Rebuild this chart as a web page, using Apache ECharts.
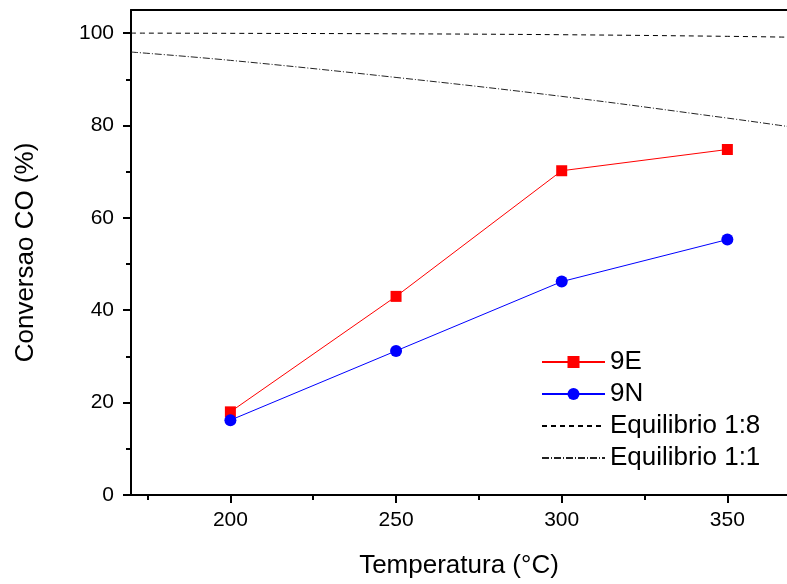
<!DOCTYPE html>
<html>
<head>
<meta charset="utf-8">
<script src="https://cdn.jsdelivr.net/npm/echarts@6/dist/echarts.min.js"></script>
<style>html,body{margin:0;padding:0;background:#fff}#c{width:787px;height:584px}</style>
</head>
<body>
<div id="c"></div>
<script>
var tempX = [200, 250, 300, 350];
var conv9E = [18.0, 43.0, 70.2, 74.8];
var conv9N = [16.2, 31.2, 46.2, 55.3];
var eqX = [170, 200, 250, 300, 350, 370];
var eq18 = [100, 99.95, 99.85, 99.65, 99.3, 99.1];
var eq11 = [95.9, 94.1, 90.4, 86.3, 81.6, 79.6];
var xMajor = [200, 250, 300, 350];
var xMinor = [175, 225, 275, 325];
var yMajor = [0, 20, 40, 60, 80, 100];
var yMinor = [10, 30, 50, 70, 90];

function pairs(xs, ys) { return xs.map(function (x, i) { return [x, ys[i]]; }); }

var FONT = 'Liberation Sans, Arial, sans-serif';
var axisLineStyle = { color: '#000', width: 2 };
var hiddenSym = { color: 'rgba(0,0,0,0)', borderWidth: 0, opacity: 0 };
var chart = echarts.init(document.getElementById('c'));
chart.setOption({
  animation: false,
  backgroundColor: '#fff',
  textStyle: { fontFamily: FONT, color: '#000' },
  grid: { left: 131, right: 0, top: 10, bottom: 88, containLabel: false },
  xAxis: [
    {
      type: 'value', min: 170, max: 368, position: 'bottom',
      name: 'Temperatura (°C)', nameLocation: 'middle', nameGap: 58,
      nameTextStyle: { fontSize: 26, color: '#000', fontFamily: FONT },
      axisLine: { show: true, lineStyle: axisLineStyle },
      axisTick: { show: true, inside: false, length: 8, customValues: xMajor, lineStyle: axisLineStyle },
      axisLabel: { show: true, customValues: xMajor, fontSize: 21, color: '#000', margin: 15, fontFamily: FONT },
      splitLine: { show: false }
    },
    {
      type: 'value', min: 170, max: 368, position: 'bottom',
      axisLine: { show: false },
      axisTick: { show: true, inside: false, length: 5, customValues: xMinor, lineStyle: axisLineStyle },
      axisLabel: { show: false },
      splitLine: { show: false }
    },
    {
      type: 'value', min: 170, max: 368, position: 'top',
      axisLine: { show: true, lineStyle: axisLineStyle },
      axisTick: { show: false }, axisLabel: { show: false }, splitLine: { show: false }
    }
  ],
  yAxis: [
    {
      type: 'value', min: 0, max: 105, position: 'left',
      name: 'Conversao CO (%)', nameLocation: 'middle', nameGap: 92, nameRotate: 90,
      nameTextStyle: { fontSize: 26, color: '#000', fontFamily: FONT },
      axisLine: { show: true, lineStyle: axisLineStyle },
      axisTick: { show: true, inside: false, length: 8, customValues: yMajor, lineStyle: axisLineStyle },
      axisLabel: { show: true, customValues: yMajor, fontSize: 21, color: '#000', margin: 17, fontFamily: FONT },
      splitLine: { show: false }
    },
    {
      type: 'value', min: 0, max: 105, position: 'left',
      axisLine: { show: false },
      axisTick: { show: true, inside: false, length: 5, customValues: yMinor, lineStyle: axisLineStyle },
      axisLabel: { show: false },
      splitLine: { show: false }
    }
  ],
  legend: {
    left: 536, top: 344, orient: 'vertical',
    itemWidth: 63, itemHeight: 15, itemGap: 6,
    textStyle: { fontSize: 26, lineHeight: 26, color: '#000', fontFamily: FONT },
    data: [
      { name: '9E' },
      { name: '9N' },
      { name: 'Equilibrio 1:8', itemStyle: hiddenSym },
      { name: 'Equilibrio 1:1', itemStyle: hiddenSym }
    ]
  },
  series: [
    {
      name: 'Equilibrio 1:8', type: 'line', data: pairs(eqX, eq18), smooth: 0.4,
      symbol: 'none', clip: true,
      lineStyle: { color: '#000', width: 1, type: [5, 4] }, itemStyle: { color: '#000' }
    },
    {
      name: 'Equilibrio 1:1', type: 'line', data: pairs(eqX, eq11), smooth: 0.4,
      symbol: 'none', clip: true,
      lineStyle: { color: '#222', width: 1, type: [7, 2, 1, 2] }, itemStyle: { color: '#222' }
    },
    {
      name: '9E', type: 'line', data: pairs(tempX, conv9E),
      symbol: 'rect', symbolSize: 11,
      lineStyle: { color: '#ff0000', width: 1 }, itemStyle: { color: '#ff0000' }
    },
    {
      name: '9N', type: 'line', data: pairs(tempX, conv9N),
      symbol: 'circle', symbolSize: 12,
      lineStyle: { color: '#0000ff', width: 1 }, itemStyle: { color: '#0000ff' }
    }
  ]
});
</script>
</body>
</html>
